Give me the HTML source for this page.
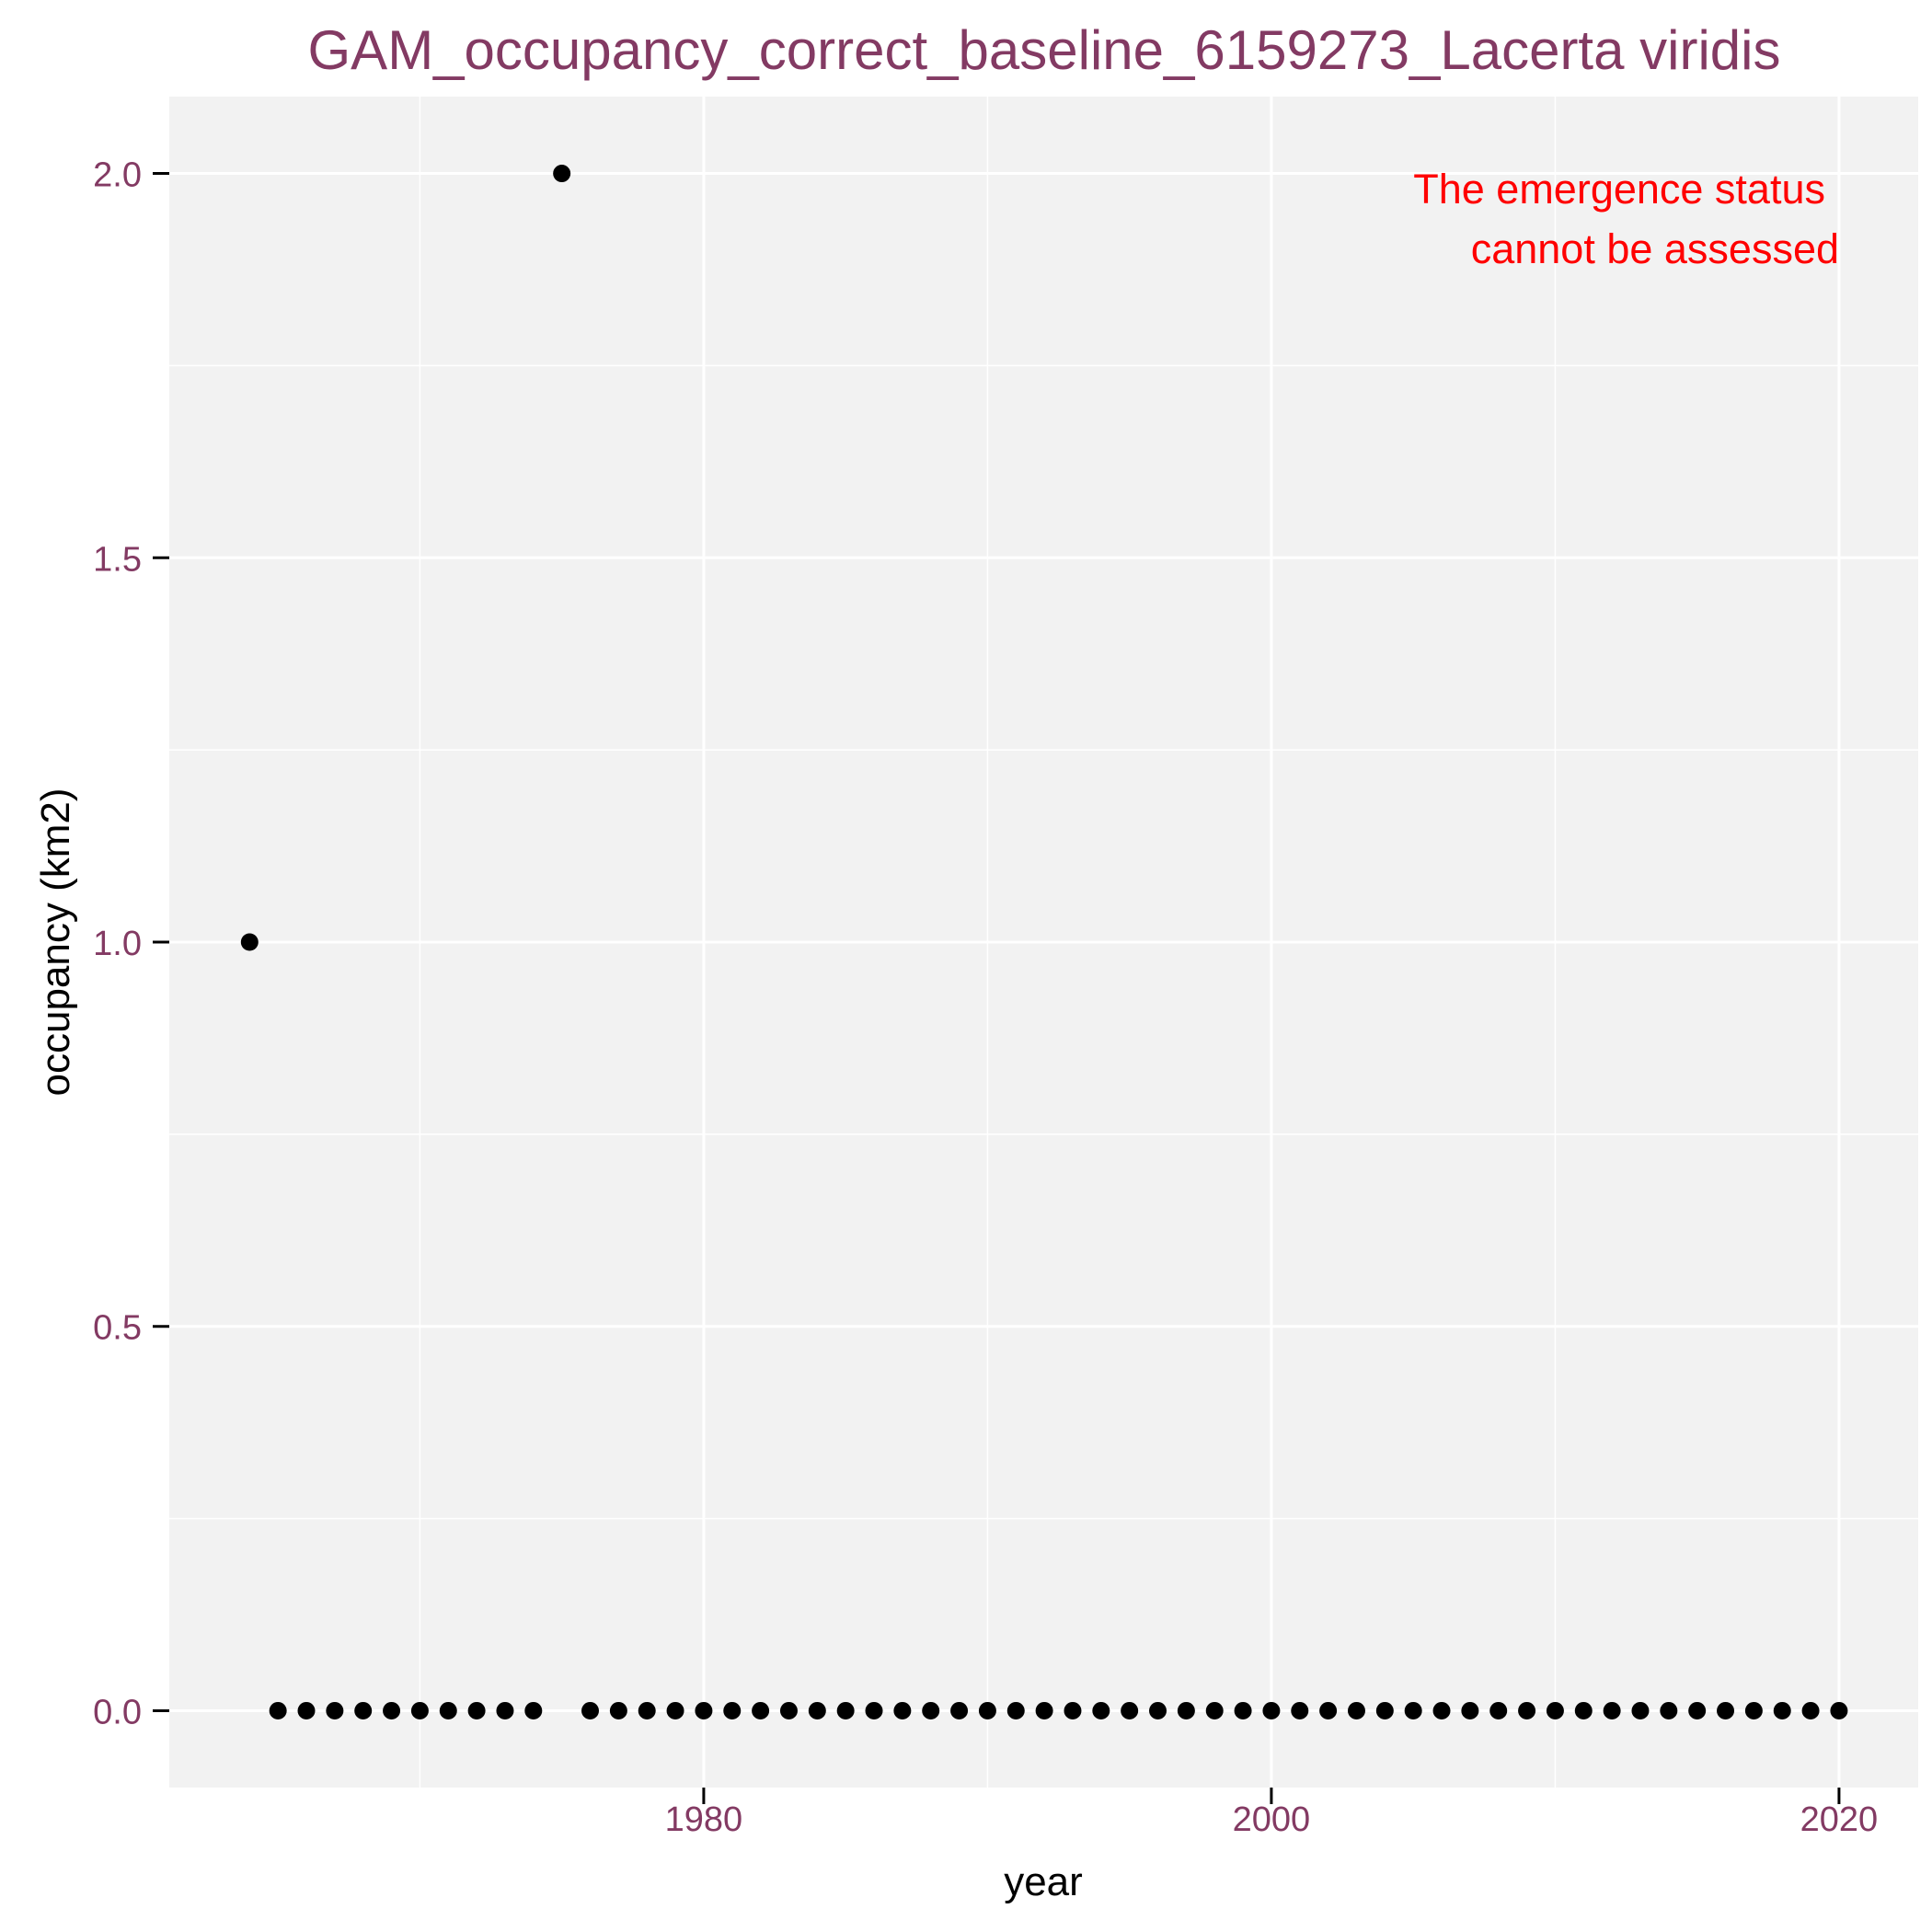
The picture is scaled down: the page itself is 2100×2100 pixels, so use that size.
<!DOCTYPE html>
<html><head><meta charset="utf-8"><style>
html,body{margin:0;padding:0;background:#fff}
svg{display:block;font-family:"Liberation Sans",Arial,sans-serif}
</style></head><body>
<svg id="chart" width="2100" height="2100" viewBox="0 0 2100 2100">
<text x="1135" y="75" text-anchor="middle" font-size="60" fill="#833A63">GAM_occupancy_correct_baseline_6159273_Lacerta viridis</text>
<rect x="184" y="105" width="1901" height="1838" fill="#F2F2F2"/>
<g id="grid"></g>
<g id="axes"></g>
<g id="points"></g>
<text x="1984" y="221" text-anchor="end" font-size="45" fill="#FF0000">The emergence status</text>
<text x="1999" y="286" text-anchor="end" font-size="45" fill="#FF0000">cannot be assessed</text>
<text x="1134" y="2060" text-anchor="middle" font-size="44" fill="#000">year</text>
<text transform="translate(75,1024) rotate(-90)" text-anchor="middle" font-size="44" fill="#000">occupancy (km2)</text>
</svg>
<script>
const years = [1964,1965,1966,1967,1968,1969,1970,1971,1972,1973,1974,1975,1976,1977,1978,1979,1980,1981,1982,1983,1984,1985,1986,1987,1988,1989,1990,1991,1992,1993,1994,1995,1996,1997,1998,1999,2000,2001,2002,2003,2004,2005,2006,2007,2008,2009,2010,2011,2012,2013,2014,2015,2016,2017,2018,2019,2020];
const occupancy = [1,0,0,0,0,0,0,0,0,0,0,2,0,0,0,0,0,0,0,0,0,0,0,0,0,0,0,0,0,0,0,0,0,0,0,0,0,0,0,0,0,0,0,0,0,0,0,0,0,0,0,0,0,0,0,0,0];
const xTicks = [1980,2000,2020];
const xMinor = [1970,1990,2010];
const yTicks = [0,0.5,1,1.5,2];
const yTickLabels = ["0.0","0.5","1.0","1.5","2.0"];
const yMinor = [0.25,0.75,1.25,1.75];

const NS="http://www.w3.org/2000/svg";
const L=184,R=2085,T=105,B=1943;
const xMin=1961.17,xMax=2022.79,yMin=-0.1,yMax=2.1;
const sx=v=>L+(v-xMin)/(xMax-xMin)*(R-L);
const sy=v=>B-(v-yMin)/(yMax-yMin)*(B-T);
function mk(tag,attrs,parent){const e=document.createElementNS(NS,tag);for(const k in attrs)e.setAttribute(k,attrs[k]);parent.appendChild(e);return e;}
const grid=document.getElementById('grid'),axes=document.getElementById('axes'),pts=document.getElementById('points');
yMinor.forEach(v=>{const e=mk('line',{x1:L,x2:R,y1:sy(v),y2:sy(v),stroke:'#fff','stroke-width':1.5},grid);

});
xMinor.forEach(v=>{const e=mk('line',{x1:sx(v),x2:sx(v),y1:T,y2:B,stroke:'#fff','stroke-width':1.5},grid);

});
yTicks.forEach((v,i)=>{const e=mk('line',{x1:L,x2:R,y1:sy(v),y2:sy(v),stroke:'#fff','stroke-width':3},grid);


const t=mk('line',{x1:L-18,x2:L,y1:sy(v),y2:sy(v),stroke:'#000','stroke-width':3},axes);


const tx=mk('text',{x:L-30,y:sy(v)+14,'text-anchor':'end','font-size':38,fill:'#833A63'},axes);tx.textContent=yTickLabels[i];

});
xTicks.forEach(v=>{const e=mk('line',{x1:sx(v),x2:sx(v),y1:T,y2:B,stroke:'#fff','stroke-width':3},grid);


const t=mk('line',{x1:sx(v),x2:sx(v),y1:B,y2:B+18,stroke:'#000','stroke-width':3},axes);


const tx=mk('text',{x:sx(v),y:1990,'text-anchor':'middle','font-size':38,fill:'#833A63'},axes);tx.textContent=v;

});
years.forEach((y,i)=>{const c=mk('circle',{cx:sx(y),cy:sy(occupancy[i]),r:9.5,fill:'#000'},pts);

});
</script>
</body></html>
